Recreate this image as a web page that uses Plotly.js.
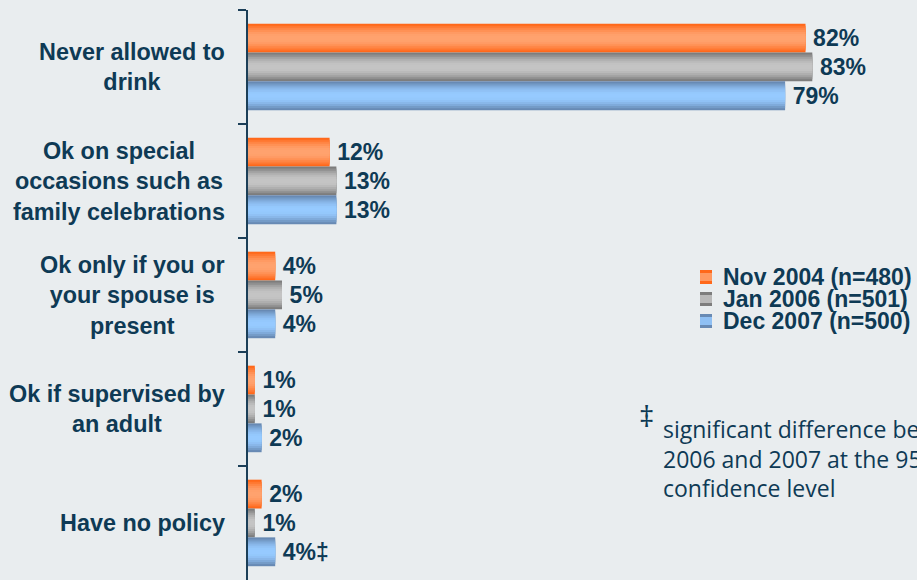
<!DOCTYPE html>
<html>
<head>
<meta charset="utf-8">
<script src="https://cdn.plot.ly/plotly-3.0.1.min.js"></script>
<style>
  html, body { margin: 0; padding: 0; background: #e9edef; }
  #chart { width: 917px; height: 580px; }
</style>
</head>
<body>
<div id="chart"></div>
<script>
// ---- data ----
const categories = ["never", "special", "spouse", "supervised", "nopolicy"];
const categoryLabels = [
  "Never allowed to<br>drink",
  "Ok on special<br>occasions such as<br>family celebrations",
  "Ok only if you or<br>your spouse is<br>present",
  "Ok if supervised by<br>an adult",
  "Have no policy"
];
const seriesNames = ["Nov 2004 (n=480)", "Jan 2006 (n=501)", "Dec 2007 (n=500)"];
const nov2004 = [82, 12, 4, 1, 2];
const jan2006 = [83, 13, 5, 1, 1];
const dec2007 = [79, 13, 4, 2, 4];
const nov2004Marks = ["", "", "", "", ""];
const jan2006Marks = ["", "", "", "", ""];
const dec2007Marks = ["", "", "", "", "‡"];
const footnoteSymbol = "‡";
const footnoteLines = ["significant difference between", "2006 and 2007 at the 95%", "confidence level"];

// ---- styles ----
const navy = "#0e3a55";
const bg = "#e9edef";
const seriesValues = [nov2004, jan2006, dec2007];
const seriesMarks = [nov2004Marks, jan2006Marks, dec2007Marks];
const edgeColors = [[255, 104, 26], [125, 125, 125], [104, 138, 180]];
const centerColors = [[255, 162, 110], [196, 196, 196], [150, 202, 255]];
const barWidth = 0.253;
const barOffsets = [-0.38, -0.127, 0.126];
const nLayers = 7;

function mix(a, b, t) {
  return "rgb(" + a.map((v, i) => Math.round(v + (b[i] - v) * t)).join(",") + ")";
}

const traces = [];
seriesValues.forEach((vals, s) => {
  for (let k = 0; k < nLayers; k++) {
    const f = 1 - k / nLayers;
    const t = Math.sin((k / (nLayers - 1)) * Math.PI / 2);
    const tr = {
      type: "bar",
      orientation: "h",
      name: seriesNames[s],
      y: categories,
      x: vals,
      width: barWidth * f,
      offset: barOffsets[s] + barWidth * (1 - f) / 2,
      marker: { color: mix(edgeColors[s], centerColors[s], t), line: { width: 0 } },
      showlegend: false,
      hoverinfo: "skip",
      cliponaxis: false
    };
    if (k === 0) {
      tr.text = vals.map((v, i) => "\u2009" + v + "%" + seriesMarks[s][i]);
      tr.textposition = "outside";
      tr.constraintext = "none";
      tr.textfont = { family: "Arial, Liberation Sans", size: 23, color: navy, weight: "bold" };
    } else {
      tr.textposition = "none";
    }
    traces.push(tr);
  }
});

// plot geometry helpers (paper coords)
const plotLeft = 248, plotTop = 10, plotW = 669, plotH = 570;
const px = x => (x - plotLeft) / plotW;
const py = y => (plotTop + plotH - y) / plotH;

const annotations = [];
categories.forEach((c, i) => {
  annotations.push({
    xref: "paper", yref: "y", x: 0, y: c, xshift: -21,
    xanchor: "right", yanchor: "middle", align: "center",
    text: categoryLabels[i], showarrow: false,
    font: { family: "Arial, Liberation Sans", size: 23.4, color: navy, weight: "bold" }
  });
});

const legendRowsY = [277, 299, 321];
const shapes = [];
seriesNames.forEach((n, s) => {
  annotations.push({
    xref: "paper", yref: "paper", x: px(721), y: py(legendRowsY[s]),
    xanchor: "left", yanchor: "middle", text: n, showarrow: false,
    font: { family: "Arial, Liberation Sans", size: 23, color: navy, weight: "bold" }
  });
  shapes.push({
    type: "rect", xref: "paper", yref: "paper",
    x0: px(700), x1: px(712), y0: py(legendRowsY[s] + 7), y1: py(legendRowsY[s] - 7),
    fillcolor: mix(edgeColors[s], edgeColors[s], 0), line: { width: 0 }
  });
  shapes.push({
    type: "rect", xref: "paper", yref: "paper",
    x0: px(700), x1: px(712), y0: py(legendRowsY[s] + 4), y1: py(legendRowsY[s] - 4),
    fillcolor: mix(edgeColors[s], centerColors[s], 0.85), line: { width: 0 }
  });
});

annotations.push({
  xref: "paper", yref: "paper", x: px(646), y: py(415),
  xanchor: "center", yanchor: "middle", text: footnoteSymbol, showarrow: false,
  font: { family: "Open Sans", size: 30, color: navy }
});
const footY = [429, 459, 488];
footnoteLines.forEach((l, i) => {
  annotations.push({
    xref: "paper", yref: "paper", x: px(661), y: py(footY[i]),
    xanchor: "left", yanchor: "middle", text: l, showarrow: false,
    font: { family: "Open Sans", size: 23, color: navy }
  });
});

const layout = {
  width: 917, height: 580,
  margin: { l: plotLeft, r: 0, t: plotTop, b: 0, pad: 0 },
  paper_bgcolor: bg, plot_bgcolor: bg,
  barmode: "overlay",
  showlegend: false,
  xaxis: { range: [0, 98.4], visible: false, fixedrange: true },
  yaxis: {
    type: "category", categoryorder: "array", categoryarray: categories,
    range: [4.5, -0.5],
    showticklabels: false, ticks: "outside", tickson: "boundaries",
    ticklen: 8, tickwidth: 2, tickcolor: "#1c3f58",
    showline: true, linecolor: "#1c3f58", linewidth: 2,
    showgrid: false, zeroline: false, fixedrange: true
  },
  annotations: annotations,
  shapes: shapes
};

Plotly.newPlot("chart", traces, layout, { displayModeBar: false, staticPlot: true });
</script>
</body>
</html>
